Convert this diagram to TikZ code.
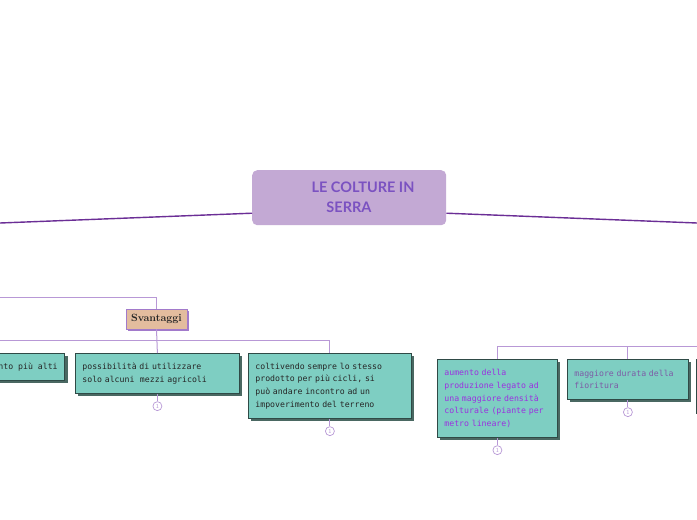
\documentclass[tikz,border=0pt]{standalone}
\usepackage{fontspec}
\newfontfamily\titlefont{Lato}
\newfontfamily\boxfont{DejaVu Sans Mono}
\usetikzlibrary{shadows}
\definecolor{mainln}{HTML}{6B2E96}
\definecolor{subln}{HTML}{B898D6}
\definecolor{cfill}{HTML}{C3A9D4}
\definecolor{ctext}{HTML}{7B52C1}
\definecolor{bfill}{HTML}{7ECEC2}
\definecolor{bdraw}{HTML}{2F4A46}
\definecolor{bshadow}{HTML}{4A6862}
\definecolor{sfill}{HTML}{E3BC9E}
\definecolor{sdraw}{HTML}{A27ACB}
\definecolor{vtext}{HTML}{9B30E0}
\definecolor{gtext}{HTML}{7D5BA6}
\definecolor{dtext}{HTML}{262626}
\begin{document}
\begin{tikzpicture}[x=1pt,y=-1pt,
  mainline/.style={draw=mainln,line width=1.4pt},
  subline/.style={draw=subln,line width=1pt},
  topicbox/.style={rounded corners=5pt,fill=cfill,anchor=north west,inner sep=0pt},
  leafbox/.style={draw=bdraw,line width=0.8pt,fill=bfill,anchor=north west,inner xsep=7pt,inner ysep=0pt,
    align=left,font=\boxfont\fontsize{8.2}{12.7}\selectfont,
    drop shadow={shadow xshift=3pt,shadow yshift=-3pt,fill=bshadow,opacity=1}},
  labelbox/.style={draw=sdraw,line width=0.6pt,fill=sfill,inner sep=0pt,
    font=\bfseries\fontsize{10.5}{12}\selectfont,text=dtext,
    drop shadow={shadow xshift=2pt,shadow yshift=-2pt,fill=sdraw,opacity=1}},
  counter/.style={circle,draw=subln,fill=white,line width=0.7pt,minimum size=9pt,inner sep=0pt,
    font=\sffamily\fontsize{6}{6}\selectfont,text=subln}]
\useasboundingbox (0,0) rectangle (697,520);
\clip (0,0) rectangle (697,520);
\fill[white] (0,0) rectangle (697,520);

% central topic
\node[topicbox,minimum width=194pt,minimum height=55pt] (center) at (252,170) {};
\node[font=\titlefont\bfseries\fontsize{14.5}{20}\selectfont,text=ctext,align=center,inner sep=0pt]
  (title) at (349,197) {\hspace*{28pt}LE COLTURE IN\\SERRA};

\coordinate (L) at (0,223);
\coordinate (R) at (697,223);
\draw[mainline] ([yshift=-15.5pt]center.west) -- (L);
\draw[mainline] ([yshift=-15.5pt]center.east) -- (R);

% Svantaggi branch
\node[labelbox,minimum width=61pt,minimum height=20pt] (svant) at (156.5,319) {Svantaggi};
\coordinate (TL) at (0,297);
\draw[subline] (TL) -| (svant.north);

\node[leafbox,text=dtext,minimum height=27pt] (b1) at (-9,353) {nto più alti};
\node[leafbox,text=dtext,text width=150pt,minimum width=164pt,minimum height=40pt] (b2) at (75,353)
  {possibilità di utilizzare\\solo alcuni\ \ mezzi agricoli};
\node[leafbox,text=dtext,text width=149pt,minimum width=163pt,minimum height=65pt] (b3) at (248,353)
  {coltivendo sempre lo stesso\\prodotto per più cicli, si\\può andare incontro ad un\\impoverimento del terreno};

\coordinate (HL) at (0,340);
\draw[subline] (HL) -| (b3.north);
\draw[subline] (svant.south) -- (b2.north);

\node[counter,anchor=north] (c2) at ([yshift=-7.5pt]b2.south) {1};
\node[counter,anchor=north] (c3) at ([yshift=-7.5pt]b3.south) {1};
\draw[subline] (b2.south) -- (c2);
\draw[subline] (b3.south) -- (c3);

% right branch
\node[leafbox,text=vtext,text width=106pt,minimum width=120pt,minimum height=78pt] (b4) at (437,359)
  {aumento della\\produzione legato ad\\una maggiore densità\\colturale (piante per\\metro lineare)};
\node[leafbox,text=gtext,text width=107pt,minimum width=121pt,minimum height=40pt] (b5) at (567,359)
  {maggiore durata della\\fioritura};
\node[leafbox,minimum width=40pt,minimum height=54pt] (b6) at (696,359) {};

\coordinate (HR) at (697,346);
\draw[subline] (HR) -| (b4.north);
\draw[subline] (b5.north) -- (b5.north |- HR);

\node[counter,anchor=north] (c4) at ([yshift=-7.5pt]b4.south) {1};
\node[counter,anchor=north] (c5) at ([yshift=-7.5pt]b5.south) {1};
\draw[subline] (b4.south) -- (c4);
\draw[subline] (b5.south) -- (c5);
\end{tikzpicture}
\end{document}
